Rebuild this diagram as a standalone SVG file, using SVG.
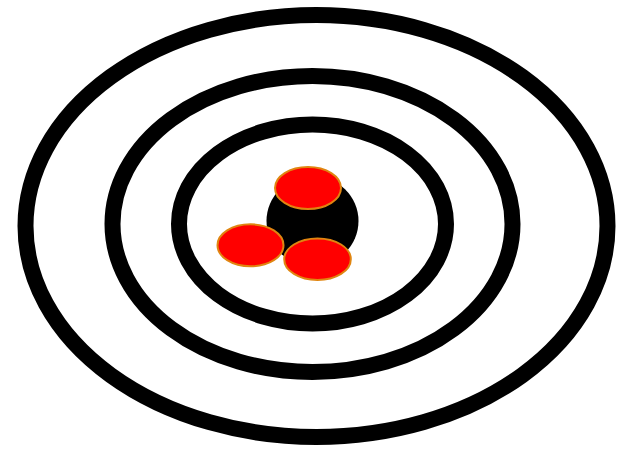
<svg xmlns="http://www.w3.org/2000/svg" width="618" height="449" viewBox="0 0 618 449">
  <style>
    .ring { fill: none; stroke: #000; stroke-width: 16; }
    .dot { fill: #ff0000; stroke: #e08510; stroke-width: 2; }
  </style>
  <rect width="618" height="449" fill="#fff"/>
  <g id="ring-outer"><ellipse class="ring" cx="316.5" cy="226" rx="291" ry="211"/></g>
  <g id="ring-middle"><ellipse class="ring" cx="312.5" cy="224" rx="200" ry="148"/></g>
  <g id="ring-inner"><ellipse class="ring" cx="312.5" cy="224" rx="133.5" ry="99.5"/></g>
  <g id="bullseye"><ellipse cx="312.5" cy="221" rx="46" ry="45" fill="#000"/></g>
  <g id="hit-top"><ellipse class="dot" cx="308" cy="188" rx="33" ry="21"/></g>
  <g id="hit-left"><ellipse class="dot" cx="250.5" cy="245.3" rx="33" ry="21"/></g>
  <g id="hit-right"><ellipse class="dot" cx="317.5" cy="259.2" rx="33.3" ry="20.8"/></g>
</svg>
